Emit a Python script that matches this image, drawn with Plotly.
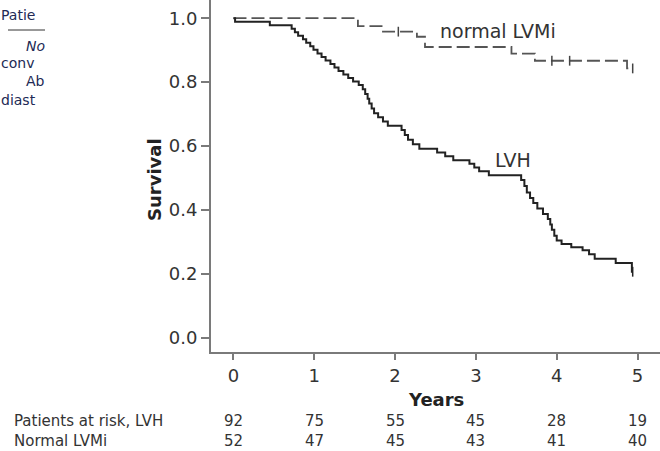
import plotly.graph_objects as go

# ---- data ----
lvh_t = [0.0, 0.02, 0.45, 0.72, 0.76, 0.80, 0.86, 0.90, 0.95, 0.99, 1.04, 1.09, 1.14, 1.20, 1.25,
         1.30, 1.36, 1.42, 1.48, 1.55, 1.60, 1.63, 1.66, 1.68, 1.71, 1.74, 1.79, 1.85, 1.91, 2.08,
         2.12, 2.16, 2.22, 2.30, 2.52, 2.62, 2.72, 2.92, 2.98, 3.04, 3.16, 3.56, 3.60, 3.63, 3.67,
         3.71, 3.76, 3.83, 3.89, 3.92, 3.94, 3.97, 4.00, 4.06, 4.18, 4.32, 4.40, 4.47, 4.73, 4.93, 4.94]
lvh_s = [1.0, 0.989, 0.978, 0.967, 0.956, 0.945, 0.934, 0.923, 0.912, 0.901, 0.890, 0.879, 0.868, 0.857, 0.846,
         0.835, 0.824, 0.813, 0.802, 0.791, 0.778, 0.763, 0.748, 0.733, 0.718, 0.703, 0.690, 0.677, 0.664, 0.650,
         0.635, 0.620, 0.606, 0.592, 0.580, 0.568, 0.556, 0.545, 0.533, 0.521, 0.509, 0.494, 0.475, 0.455, 0.438,
         0.422, 0.405, 0.388, 0.372, 0.355, 0.338, 0.320, 0.305, 0.294, 0.284, 0.274, 0.262, 0.248, 0.234, 0.207, 0.207]
lvh_cens_t = [4.94]
lvh_cens_s = [0.207]

norm_t = [0.0, 1.54, 1.85, 2.27, 2.37, 3.44, 3.73, 4.87, 4.94]
norm_s = [1.0, 0.975, 0.958, 0.942, 0.910, 0.889, 0.867, 0.843, 0.843]
norm_cens_t = [2.04, 3.94, 4.16, 4.94]
norm_cens_s = [0.958, 0.867, 0.867, 0.843]

years = [0, 1, 2, 3, 4, 5]
risk_lvh = [92, 75, 55, 45, 28, 19]
risk_norm = [52, 47, 45, 43, 41, 40]
risk_labels = ["Patients at risk, LVH", "Normal LVMi"]
y_ticks = [0.0, 0.2, 0.4, 0.6, 0.8, 1.0]

FONT = "DejaVu Sans"
TXT = "#333333"
AX = "#7a7a7a"

fig = go.Figure()
fig.add_trace(go.Scatter(x=norm_t, y=norm_s, mode="lines", line_shape="hv",
                         line=dict(color="#555555", width=1.8, dash="13px,5px"), showlegend=False))
fig.add_trace(go.Scatter(x=lvh_t, y=lvh_s, mode="lines", line_shape="hv",
                         line=dict(color="#222222", width=2), showlegend=False))
fig.add_trace(go.Scatter(x=norm_cens_t, y=norm_cens_s, mode="markers",
                         marker=dict(symbol="line-ns", size=7, line=dict(color="#444444", width=1.5)),
                         showlegend=False))
fig.add_trace(go.Scatter(x=lvh_cens_t, y=lvh_cens_s, mode="markers",
                         marker=dict(symbol="line-ns", size=7, line=dict(color="#222222", width=1.5)),
                         showlegend=False))

W, H = 660, 451
L, B = 211, 99
PH = H - B
PW = W - L

def px_x(px):
    return (px - L) / PW

def px_y(py):
    return (PH - py) / PH

ann = []
ann.append(dict(x=3.27, y=0.959, xref="x", yref="y", text="normal LVMi", showarrow=False,
                xanchor="center", yanchor="middle", font=dict(family=FONT, size=19, color=TXT)))
ann.append(dict(x=3.46, y=0.555, xref="x", yref="y", text="LVH", showarrow=False,
                xanchor="center", yanchor="middle", font=dict(family=FONT, size=19, color=TXT)))
# axis titles
ann.append(dict(x=px_x(154), y=px_y(180), xref="paper", yref="paper", text="<b>Survival</b>",
                textangle=-90, showarrow=False, xanchor="center", yanchor="middle",
                font=dict(family=FONT, size=18, color="#222222")))
ann.append(dict(x=2.5, y=px_y(400), xref="x", yref="paper", text="<b>Years</b>", showarrow=False,
                xanchor="center", yanchor="middle", font=dict(family=FONT, size=18, color="#222222")))
# risk table (two rows per annotation)
ann.append(dict(x=px_x(13), y=px_y(431), xref="paper", yref="paper",
                text="<br>".join(risk_labels), align="left",
                xanchor="left", yanchor="middle", showarrow=False, borderpad=0,
                font=dict(family=FONT, size=15, color=TXT)))
for yr, a, b in zip(years, risk_lvh, risk_norm):
    ann.append(dict(x=yr, y=px_y(431), xref="x", yref="paper", text="%d<br>%d" % (a, b),
                    showarrow=False, xanchor="center", yanchor="middle", borderpad=0,
                    font=dict(family=FONT, size=15, color=TXT)))
# cropped page text at left
NAVY = "#222a55"
left_txt = [("Patie", 0, 15, False, "left"), ("No", 46, 46, True, "right"),
            ("conv", 0, 63, False, "left"), ("Ab", 46, 81, False, "right"),
            ("diast", 0, 100, False, "left")]
for t, x0, yc, it, anc in left_txt:
    ann.append(dict(x=px_x(x0), y=px_y(yc), xref="paper", yref="paper",
                    text=("<i>%s</i>" % t) if it else t, xanchor=anc, yanchor="middle",
                    showarrow=False, borderpad=0, font=dict(family=FONT, size=14, color=NAVY)))

shapes = [dict(type="line", xref="paper", yref="paper", x0=px_x(8), x1=px_x(45),
               y0=px_y(30), y1=px_y(30), line=dict(color="#333333", width=1))]

fig.update_layout(
    width=W, height=H, margin=dict(l=L, r=0, t=0, b=B),
    paper_bgcolor="white", plot_bgcolor="white",
    annotations=ann, shapes=shapes, showlegend=False,
    xaxis=dict(range=[-0.278, 5.278], tickvals=years, ticktext=[str(v) for v in years],
               showline=True, linecolor=AX, linewidth=2, ticks="outside", ticklen=6,
               tickwidth=1.5, tickcolor=AX, showgrid=False, zeroline=False,
               tickfont=dict(family=FONT, size=18, color=TXT)),
    yaxis=dict(range=[-0.044, 1.057], tickvals=y_ticks, ticktext=["%.1f" % v for v in y_ticks],
               showline=True, linecolor=AX, linewidth=2, ticks="outside", ticklen=8,
               tickwidth=1.5, tickcolor=AX, showgrid=False, zeroline=False,
               tickfont=dict(family=FONT, size=18, color=TXT)),
)
fig.write_html("out.html")
